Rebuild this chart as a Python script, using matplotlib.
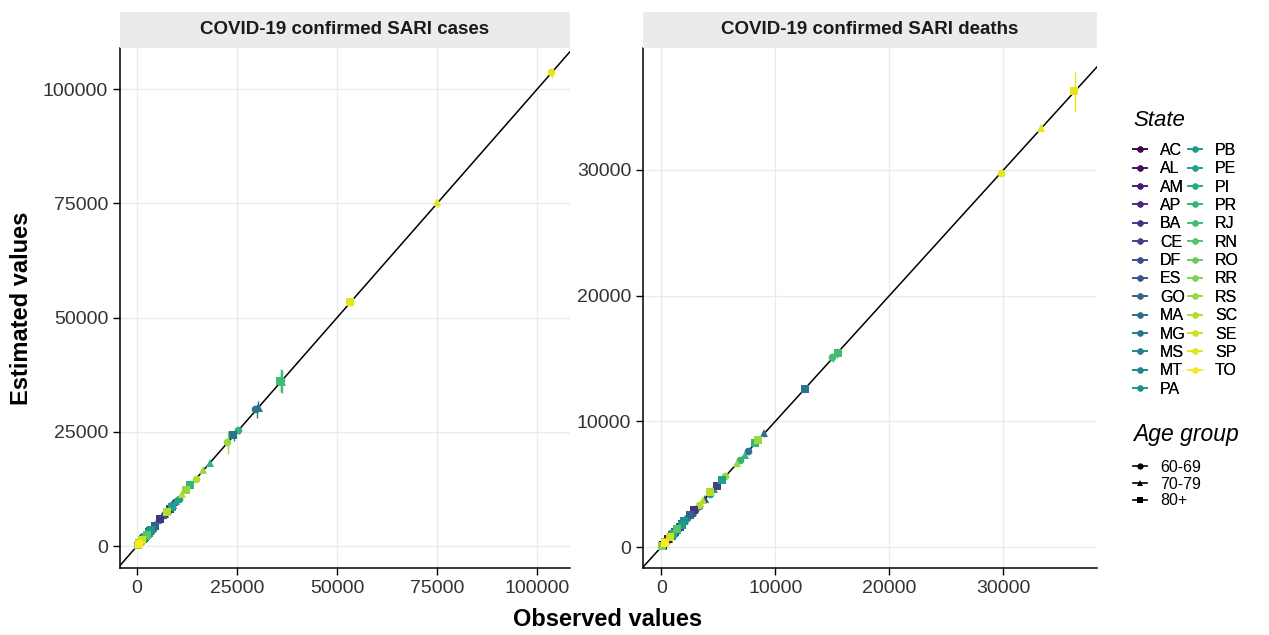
"""
Observed vs estimated COVID-19 SARI cases and deaths by state and age group.
"""

import numpy as np
import matplotlib
matplotlib.use("Agg")
import matplotlib.pyplot as plt
from matplotlib.lines import Line2D

plt.rcParams["font.family"] = ["Liberation Sans", "DejaVu Sans"]

STATES = ["AC", "AL", "AM", "AP", "BA", "CE", "DF", "ES", "GO", "MA", "MG",
          "MS", "MT", "PA", "PB", "PE", "PI", "PR", "RJ", "RN", "RO", "RR",
          "RS", "SC", "SE", "SP", "TO"]
AGE_GROUPS = ["60-69", "70-79", "80+"]

# ---- confirmed SARI cases (observed / estimated / CI half-width) ----
CASES_OBS_6069 = [600, 2200, 3500, 500, 7800, 9500, 6800, 4200, 8800, 2600, 29500,
                  3300, 3900, 5600, 3400, 10500, 2500, 25300, 36000, 3200, 1500, 450,
                  22600, 14800, 1800, 103500, 900]
CASES_EST_6069 = [640, 2150, 3600, 520, 7700, 9700, 6900, 4100, 8900, 2550, 29900,
                  3350, 3800, 5700, 3450, 10300, 2550, 25400, 36300, 3150, 1550, 470,
                  22800, 14700, 1850, 103800, 920]
CASES_ERR_6069 = [150, 250, 300, 100, 400, 450, 400, 300, 450, 250, 1500,
                  300, 300, 350, 300, 500, 250, 800, 2500, 300, 200, 100,
                  2500, 600, 200, 1000, 150]

CASES_OBS_7079 = [450, 1800, 2600, 350, 6900, 9000, 4600, 3500, 6600, 2300, 30500,
                  2400, 2700, 4500, 3100, 9800, 2200, 18300, 36200, 2800, 1000, 280,
                  16500, 11200, 1500, 75000, 650]
CASES_EST_7079 = [470, 1850, 2550, 370, 7000, 8900, 4700, 3450, 6700, 2350, 30200,
                  2450, 2650, 4600, 3050, 9900, 2250, 18200, 35900, 2850, 1050, 300,
                  16600, 11300, 1450, 75200, 680]
CASES_ERR_7079 = [120, 200, 250, 100, 350, 400, 300, 250, 350, 200, 1200,
                  250, 250, 300, 250, 450, 200, 500, 2500, 250, 150, 80,
                  600, 500, 200, 800, 120]

CASES_OBS_80 = [250, 1300, 1700, 200, 5800, 8200, 3200, 3000, 4600, 1900, 24000,
                1500, 1600, 3600, 2900, 8700, 1900, 13300, 35800, 2500, 600, 150,
                12200, 7400, 1200, 53300, 400]
CASES_EST_80 = [270, 1250, 1750, 220, 5900, 8100, 3300, 3050, 4500, 1950, 24200,
                1550, 1650, 3500, 2950, 8600, 1950, 13400, 36100, 2450, 630, 160,
                12300, 7500, 1250, 53400, 420]
CASES_ERR_80 = [100, 200, 200, 80, 300, 350, 250, 250, 300, 200, 900,
                200, 200, 250, 250, 400, 200, 400, 2000, 250, 120, 60,
                500, 400, 150, 700, 100]

# ---- confirmed SARI deaths ----
DEATHS_OBS_6069 = [200, 700, 1300, 150, 2600, 3300, 1900, 1400, 3000, 1100, 7600,
                   1100, 1400, 2300, 1300, 4300, 900, 6900, 15000, 1100, 550, 130,
                   5600, 3300, 650, 29800, 350]
DEATHS_EST_6069 = [210, 720, 1280, 160, 2650, 3250, 1950, 1420, 2950, 1120, 7650,
                   1080, 1420, 2280, 1320, 4250, 920, 6950, 15100, 1120, 560, 140,
                   5650, 3350, 660, 29750, 360]
DEATHS_ERR_6069 = [60, 80, 100, 50, 120, 150, 100, 100, 120, 80, 200,
                   80, 100, 100, 80, 150, 80, 200, 300, 80, 60, 40,
                   200, 150, 60, 300, 50]

DEATHS_OBS_7079 = [170, 650, 1200, 110, 2700, 3800, 1700, 1400, 2800, 1100, 9000,
                   900, 1100, 2100, 1500, 4600, 950, 7300, 15300, 1200, 450, 90,
                   6600, 3700, 700, 33300, 330]
DEATHS_EST_7079 = [180, 660, 1220, 120, 2680, 3850, 1720, 1380, 2820, 1090, 9050,
                   920, 1080, 2120, 1480, 4650, 960, 7350, 15400, 1210, 460, 100,
                   6650, 3720, 710, 33350, 340]
DEATHS_ERR_7079 = [50, 80, 100, 40, 120, 150, 100, 100, 120, 80, 250,
                   80, 80, 100, 80, 150, 80, 200, 300, 80, 50, 30,
                   200, 150, 60, 300, 50]

DEATHS_OBS_80 = [120, 600, 900, 80, 2900, 4900, 1600, 1800, 2500, 1200, 12600,
                 800, 900, 2000, 1800, 5300, 1000, 8200, 15500, 1400, 350, 70,
                 8500, 4300, 800, 36200, 300]
DEATHS_EST_80 = [130, 610, 920, 90, 2950, 4850, 1620, 1820, 2520, 1210, 12580,
                 820, 910, 2030, 1790, 5350, 1010, 8250, 15450, 1410, 360, 80,
                 8550, 4350, 810, 36300, 310]
DEATHS_ERR_80 = [50, 80, 80, 40, 120, 150, 100, 100, 120, 80, 250,
                 80, 80, 100, 80, 150, 80, 200, 350, 80, 50, 30,
                 250, 150, 60, 1600, 50]

W, H = 1269, 635


def px(x0, y0, x1, y1):
    """pixel box (left, top, right, bottom) -> figure fraction rect"""
    return [x0 / W, 1 - y1 / H, (x1 - x0) / W, (y1 - y0) / H]


COLORS = plt.cm.viridis(np.linspace(0, 1, len(STATES)))
MARKERS = ["o", "^", "s"]


def draw_panel(fig, rect, strip_rect, title, obs, est, err, lims, ticks):
    ax = fig.add_axes(rect)
    ax.set_xlim(lims[0])
    ax.set_ylim(lims[1])
    ax.set_xticks(ticks)
    ax.set_yticks(ticks)
    ax.set_xticklabels([str(t) for t in ticks])
    ax.set_yticklabels([str(t) for t in ticks])
    ax.grid(True, color="#ebebeb", linewidth=1.0)
    ax.set_axisbelow(True)
    for s in ["top", "right"]:
        ax.spines[s].set_visible(False)
    for s in ["left", "bottom"]:
        ax.spines[s].set_linewidth(1.1)
        ax.spines[s].set_color("black")
    ax.tick_params(labelsize=14, colors="black", labelcolor="#333333",
                   length=5, width=1.0)

    ax.axline((0, 0), slope=1, color="black", linewidth=1.1, zorder=1)

    for a in range(3):
        for i in range(len(STATES)):
            ax.vlines(est[a][i], obs[a][i] - err[a][i], obs[a][i] + err[a][i],
                      color=COLORS[i], linewidth=1.0, zorder=2)
    for a in range(3):
        for i in range(len(STATES)):
            ax.plot(obs[a][i], est[a][i], MARKERS[a], color=COLORS[i],
                    markersize=5.5, markeredgewidth=0, zorder=3)

    sax = fig.add_axes(strip_rect)
    sax.set_facecolor("#ebebeb")
    sax.set_xticks([])
    sax.set_yticks([])
    for s in sax.spines.values():
        s.set_visible(False)
    sax.text(0.5, 0.5, title, ha="center", va="center", fontsize=13.5,
             fontweight="bold", color="#1a1a1a", transform=sax.transAxes)
    return ax


def main():
    fig = plt.figure(figsize=(W / 100, H / 100), dpi=100)

    draw_panel(fig, px(120, 48, 570, 568), px(120, 12, 570, 48),
               "COVID-19 confirmed SARI cases",
               [CASES_OBS_6069, CASES_OBS_7079, CASES_OBS_80],
               [CASES_EST_6069, CASES_EST_7079, CASES_EST_80],
               [CASES_ERR_6069, CASES_ERR_7079, CASES_ERR_80],
               ((-4250, 108200), (-4800, 109000)),
               [0, 25000, 50000, 75000, 100000])

    draw_panel(fig, px(643, 48, 1097, 568), px(643, 12, 1097, 48),
               "COVID-19 confirmed SARI deaths",
               [DEATHS_OBS_6069, DEATHS_OBS_7079, DEATHS_OBS_80],
               [DEATHS_EST_6069, DEATHS_EST_7079, DEATHS_EST_80],
               [DEATHS_ERR_6069, DEATHS_ERR_7079, DEATHS_ERR_80],
               ((-1600, 38200), (-1670, 39700)),
               [0, 10000, 20000, 30000])

    fig.text(608 / W, 1 - 619 / H, "Observed values", ha="center",
             va="center", fontsize=17, fontweight="bold")
    fig.text(22 / W, 1 - 308 / H, "Estimated values", ha="center",
             va="center", rotation=90, fontsize=17, fontweight="bold")

    # legends (titles drawn separately for spacing control)
    fig.text(1133 / W, 1 - 120 / H, "State", ha="left", va="center",
             fontsize=16, fontstyle="italic")
    fig.text(1133 / W, 1 - 435 / H, "Age group", ha="left", va="center",
             fontsize=16.5, fontstyle="italic")

    leg_kw = dict(loc="upper left", frameon=False, fontsize=11.5,
                  handlelength=0.9, handletextpad=0.8,
                  borderaxespad=0, borderpad=0)

    state_handles = [Line2D([0], [0], color=COLORS[i], marker="o", markersize=4.5,
                            linewidth=1.2, markeredgewidth=0)
                     for i in range(len(STATES))]
    leg1 = fig.legend(state_handles, STATES, ncol=2, columnspacing=0.12,
                      labelspacing=0.21,
                      bbox_to_anchor=(1133 / W, 1 - 143 / H), **leg_kw)

    age_handles = [Line2D([0], [0], color="black", marker=MARKERS[a], markersize=4.5,
                          linewidth=1.2, markeredgewidth=0) for a in range(3)]
    fig.legend(age_handles, AGE_GROUPS, labelspacing=0.1,
               bbox_to_anchor=(1133 / W, 1 - 460 / H), **leg_kw)
    fig.add_artist(leg1)

    fig.savefig("out.png", dpi=100)
    plt.close(fig)


if __name__ == "__main__":
    main()
